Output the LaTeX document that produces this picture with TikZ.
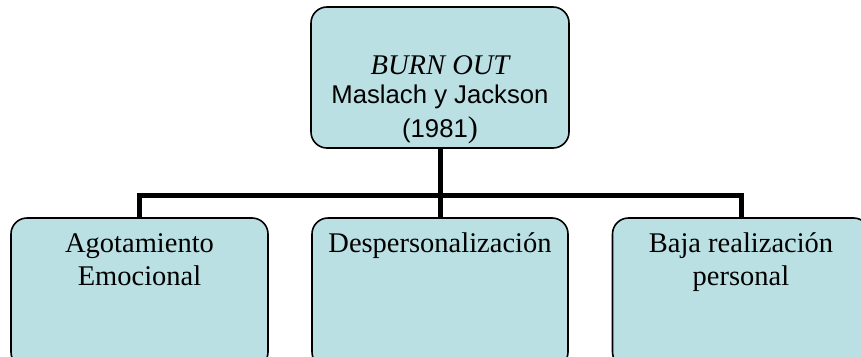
\documentclass[tikz,border=0pt]{standalone}
\usepackage{fontspec}
\setmainfont{Liberation Serif}
\newfontfamily\arialf{Liberation Sans}
\usetikzlibrary{backgrounds}
\definecolor{boxfill}{RGB}{187,224,227}
\begin{document}
\begin{tikzpicture}[x=1pt,y=-1pt,
  box/.style={draw=black,line width=1.6pt,fill=boxfill,rounded corners=16pt,
    rectangle,inner sep=0pt,minimum width=#1},
  box/.default=257pt,
  conn/.style={line width=5pt,line join=miter,line cap=rect},
  lbl/.style={anchor=base,align=center,inner sep=0pt,font=\fontsize{28.5}{33}\selectfont}]
\useasboundingbox (0,0) rectangle (861,356);
\clip (0,0) rectangle (861,356);
% boxes
\node[box=258pt,minimum height=141pt] (top) at (440,77.5) {};
\node[box,minimum height=150pt] (left) at (139.5,293) {};
\node[box=256pt,minimum height=150pt] (mid) at (440,293) {};
\node[box,minimum height=150pt] (right) at (741,293) {};
\coordinate (bar) at (440,195);
% connectors
\begin{pgfonlayer}{background}
\draw[conn] (top.south) -- (mid.north);
\draw[conn] (left.north) |- (bar) -| (right.north);
\end{pgfonlayer}
% texts
\node[lbl] (t1) at (440,74) {\itshape BURN OUT};
\node[lbl,font=\arialf\fontsize{25.7}{30}\selectfont] (t2) at (440,103) {Maslach y Jackson};
\node[lbl,font=\arialf\fontsize{25.7}{30}\selectfont] (t3) at (440,137) {(1981{\rmfamily\fontsize{30}{30}\selectfont)}};
\node[lbl] (l1) at (139.5,252) {Agotamiento};
\node[lbl] (l2) at (139.5,285) {Emocional};
\node[lbl] (m1) at (440,252) {Despersonalización};
\node[lbl] (r1) at (741,252) {Baja realización};
\node[lbl] (r2) at (741,285) {personal};
\end{tikzpicture}
\end{document}
